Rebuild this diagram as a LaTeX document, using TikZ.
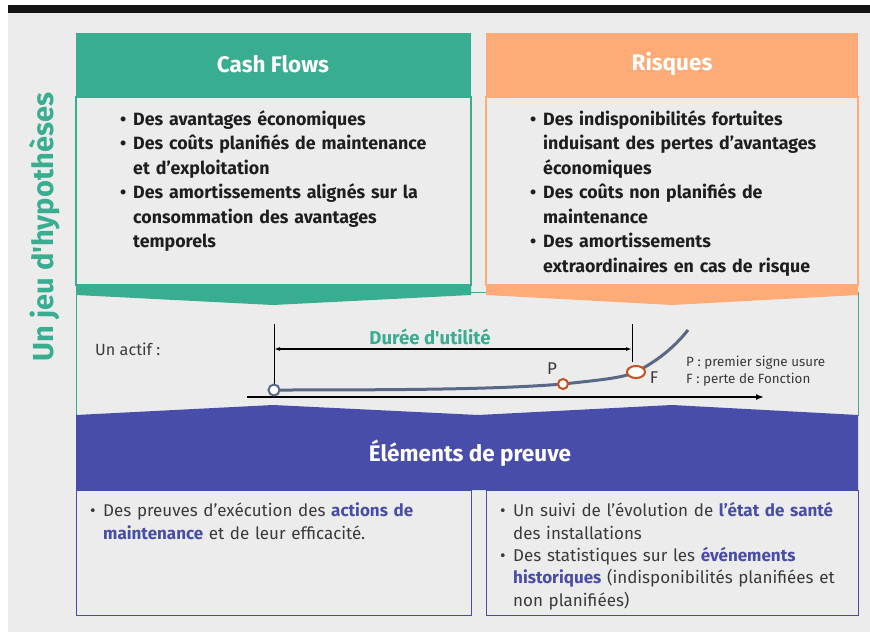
\documentclass[tikz,border=0pt]{standalone}
\usepackage{fontspec}
\setmainfont{Fira Sans}
\usetikzlibrary{arrows.meta,shapes.geometric}
\usepackage{xcolor}
\definecolor{cfteal}{HTML}{38AD8F}
\definecolor{rqorange}{HTML}{FFAB78}
\definecolor{prblue}{HTML}{474DA8}
\definecolor{bggray}{HTML}{ECECEC}
\definecolor{curvegray}{HTML}{5A6785}
\definecolor{wearred}{HTML}{C5521C}
\definecolor{inkdark}{HTML}{1E1E1E}
\definecolor{inkgray}{HTML}{3A3A3A}
\newcommand{\bul}[1]{\noindent\hangindent=13pt\hangafter=1\makebox[13pt][l]{\textbullet}\strut#1\par}
\newcommand{\keyw}[1]{\textbf{\color{prblue}#1}}

\begin{document}
\begin{tikzpicture}[x=1pt,y=-1pt]
    \tikzset{
        headtext/.style={text=white,font=\bfseries\fontsize{22.5}{22.5}\selectfont},
        toplist/.style={anchor=north west,inner sep=0pt,text width=380pt,align=left,
            text=inkdark,font=\bfseries\fontsize{17.8}{24.5}\selectfont},
        prooflist/.style={anchor=north west,inner sep=0pt,text width=380pt,align=left,
            text=inkgray,font=\fontsize{17}{22.3}\selectfont},
        legend/.style={anchor=west,inner sep=0pt,text=inkgray,font=\fontsize{13.4}{15}\selectfont},
        wear/.style={draw=wearred,line width=2pt,fill=white,inner sep=0pt},
        curve/.style={draw=curvegray,line width=3pt},
        rule/.style={draw=black,line width=0.9pt}
    }
    \useasboundingbox (0,0) rectangle (870,632);
    % page
    \fill[bggray] (8,13) rectangle (870,632);
    \fill[black!92] (8,5) rectangle (870,13);
    \node[rotate=90,text=cfteal,font=\bfseries\fontsize{29}{29}\selectfont] (jeu) at (45,227)
        {Un jeu d\textquotesingle hypothèses};
    % middle panel
    \draw[cfteal,line width=1pt] (76,292) rectangle (858,415);
    % proof band
    \fill[prblue] (76,415) -- (273,405) -- (478,415) -- (672,405) -- (858,415)
        -- (858,490) -- (76,490) -- cycle;
    \node[headtext] (proof) at (470,453) {Éléments de preuve};
    \draw[prblue,line width=1pt] (76,490) rectangle (471,615);
    \draw[prblue,line width=1pt] (486,490) rectangle (858,615);
    % cash flows
    \draw[cfteal,line width=1.2pt] (76,97) rectangle (471,285);
    \fill[cfteal] (76,33) rectangle (471,97);
    \fill[cfteal] (76,285) -- (471,285) -- (471,295) -- (273,305) -- (76,295) -- cycle;
    \node[headtext] (cash) at (273,64) {Cash Flows};
    % risques
    \draw[rqorange,line width=1.2pt] (486,97) rectangle (858,285);
    \fill[rqorange] (486,33) rectangle (858,97);
    \fill[rqorange] (486,285) -- (858,285) -- (858,295) -- (672,305) -- (486,295) -- cycle;
    \node[headtext] (risk) at (672,64) {Risques};
    % lists
    \node[toplist] (cashlist) at (120,108) {%
        \bul{Des avantages économiques}
        \bul{Des coûts planifiés de maintenance\newline et d’exploitation}
        \bul{Des amortissements alignés sur la\newline consommation des avantages\newline temporels}};
    \node[toplist] (risklist) at (530,108) {%
        \bul{Des indisponibilités fortuites\newline induisant des pertes d’avantages\newline économiques}
        \bul{Des coûts non planifiés de\newline maintenance}
        \bul{Des amortissements\newline extraordinaires en cas de risque}};
    \node[prooflist] (prooflft) at (90,501) {%
        \bul{Des preuves d’exécution des \keyw{actions de}\newline \keyw{maintenance} et de leur efficacité.}};
    \node[prooflist] (proofrgt) at (500,501) {%
        \bul{Un suivi de l’évolution de \keyw{l’état de santé}\newline des installations}
        \bul{Des statistiques sur les \keyw{événements}\newline \keyw{historiques} (indisponibilités planifiées et\newline non planifiées)}};
    % asset life
    \node[anchor=west,inner sep=0pt,text=inkgray,font=\fontsize{16.2}{17}\selectfont] (actif) at (95,349) {Un actif :};
    \coordinate (l0) at (274,324);
    \coordinate (l1) at (632,324);
    \coordinate (l1b) at (632,362);
    \coordinate (d0) at (274,349);
    \coordinate (d1) at (632,349);
    \coordinate (ax0) at (247,397);
    \coordinate (ax1) at (764,397);
    \coordinate (t0) at (274,390);
    \coordinate (tp) at (563,384);
    \coordinate (tf) at (636,372);
    \coordinate (tend) at (688,330);
    \draw[rule] (l0) -- (t0);
    \draw[rule] (l1) -- (l1b);
    \draw[rule,line width=1.3pt,{Latex[length=6pt,width=4pt]}-{Latex[length=6pt,width=4pt]}] (d0) -- (d1);
    \node[text=cfteal,font=\bfseries\fontsize{18.6}{19}\selectfont] (duree) at (430,337) {Durée d\textquotesingle utilité};
    \draw[rule,line width=1.5pt,-{Latex[length=8pt,width=6pt]}] (ax0) -- (ax1);
    \draw[curve] (t0) .. controls (420,390) and (500,389) .. (tp)
        .. controls (600,380) and (622,378) .. (tf)
        .. controls (655,362) and (672,350) .. (tend);
    \node[circle,draw=curvegray,line width=2pt,fill=white,minimum size=11pt,inner sep=0pt] (s0) at (t0) {};
    \node[wear,circle,minimum size=10pt] (p) at (tp) {};
    \node[wear,ellipse,minimum width=18pt,minimum height=12pt] (f) at (tf) {};
    \node[text=inkgray,font=\fontsize{17}{17}\selectfont] (plab) at (552,369) {P};
    \node[text=inkgray,font=\fontsize{17}{17}\selectfont] (flab) at (654,378) {F};
    \node[legend] (leg1) at (686,363) {P : premier signe usure};
    \node[legend] (leg2) at (686,380) {F : perte de Fonction};
\end{tikzpicture}
\end{document}
